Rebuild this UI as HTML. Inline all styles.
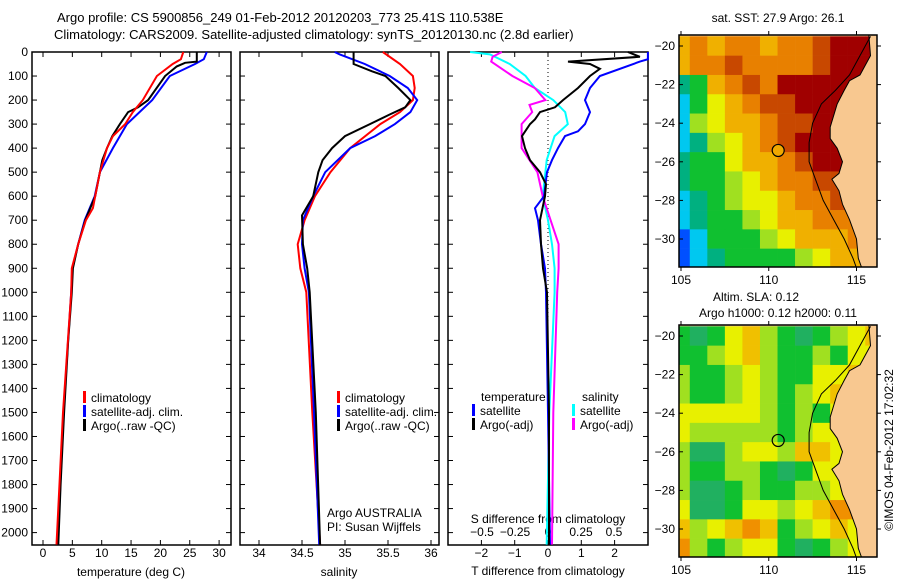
<!DOCTYPE html>
<html><head><meta charset="utf-8"><style>
html,body{margin:0;padding:0;background:#fff;}
svg{display:block;font-family:"Liberation Sans",sans-serif;}
text{font-size:12px;fill:#000;}
</style></head><body>
<svg id="fig" width="900" height="580" viewBox="0 0 900 580" xmlns="http://www.w3.org/2000/svg">
<text x="57" y="22" style="font-size:13px">Argo profile: CS 5900856_249 01-Feb-2012 20120203_773 25.41S 110.538E</text>
<text x="54" y="39" style="font-size:13px">Climatology: CARS2009. Satellite-adjusted climatology: synTS_20120130.nc (2.8d earlier)</text>
<g id="plots"></g>
</svg>
<script>
// ---------- data ----------
const depthTempClim = [0,30,50,100,200,250,300,350,400,500,600,650,700,800,900,1000,1500,2000,2050];
const tempClim      = [23.9,23.5,22.1,19.4,17.0,15.3,14.0,11.9,10.9,9.7,8.9,8.5,7.3,6.0,4.9,4.8,3.4,2.4,2.3];
const depthTempArgo = [0,40,45,60,100,200,230,250,300,350,400,450,500,600,700,800,900,1000,1200,1500,1800,2050];
const tempArgo      = [26.2,26.2,24.2,22.8,20.8,17.9,16.2,14.5,13.1,11.8,10.9,10.1,9.7,8.9,7.2,6.0,5.1,4.9,4.3,3.6,3.0,2.6];
const depthTempSat  = [0,30,50,100,200,300,400,500,600,700,800,900,1000,1500,2050];
const tempSat       = [27.9,27.4,25.9,21.6,18.6,14.3,11.9,9.7,8.8,7.1,6.0,5.0,4.8,3.5,2.5];

const depthSalClim = [0,50,100,150,200,250,300,400,500,600,700,800,900,1000,1500,2050];
const salClim      = [35.44,35.64,35.79,35.81,35.79,35.64,35.41,35.06,34.83,34.65,34.53,34.45,34.48,34.55,34.62,34.71];
const depthSalArgo = [0,50,80,100,150,200,230,260,300,350,400,450,500,600,680,800,900,1000,1500,2050];
const salArgo      = [35.10,35.10,35.31,35.47,35.62,35.76,35.70,35.52,35.29,35.0,34.85,34.74,34.69,34.63,34.50,34.51,34.56,34.59,34.66,34.71];
const depthSalSat  = [0,10,50,100,150,200,250,300,350,400,500,600,700,800,900,1000,1500,2050];
const salSat       = [34.88,34.94,35.23,35.52,35.73,35.84,35.76,35.58,35.35,35.06,34.77,34.63,34.51,34.50,34.53,34.58,34.64,34.70];

const depthTdSat = [0,30,40,100,150,200,250,300,330,350,400,450,500,600,650,700,800,900,1000,1500,2050];
const tDiffSat   = [3.0,3.0,2.76,1.56,1.26,1.11,1.26,1.11,0.9,0.51,0.3,0.12,-0.03,-0.12,-0.39,-0.3,-0.21,-0.09,-0.06,0,0.06];
const depthTdArgo = [0,20,40,50,70,100,150,200,230,250,280,300,350,400,450,500,550,600,700,800,900,1000,1500,2050];
const tDiffArgo   = [2.4,2.76,0.6,1.26,1.56,1.26,0.9,0.45,0.21,-0.24,-0.39,-0.54,-0.78,-0.69,-0.54,-0.24,-0.06,-0.09,-0.24,-0.21,-0.15,-0.03,0.03,0.03];
const depthSdSat = [0,10,50,100,150,200,250,300,350,400,450,500,600,700,800,900,1000,1500,2050];
const sDiffSat   = [-0.59,-0.44,-0.29,-0.17,-0.1,0.04,0.13,0.15,0.05,0.02,-0.01,-0.02,-0.04,0,0.03,0.05,0.05,0.01,-0.01];
const depthSdArgo = [0,20,40,100,150,200,220,250,300,400,450,500,600,700,800,900,1000,1500,2050];
const sDiffArgo   = [-0.35,-0.42,-0.43,-0.27,-0.1,-0.02,-0.14,-0.12,-0.2,-0.2,-0.14,-0.08,-0.04,0.02,0.08,0.08,0.07,0.04,0.03];

const depthTicks = [0,100,200,300,400,500,600,700,800,900,1000,1100,1200,1300,1400,1500,1600,1700,1800,1900,2000];
const tempTicks = [0,5,10,15,20,25,30];
const salTicks = [34,34.5,35,35.5,36];
const salTickLabels = ["34","34.5","35","35.5","36"];
const tdTicks = [-2,-1,0,1,2];
const sdTicks = [-0.5,-0.25,0,0.25,0.5];
const sdTickLabels = ["\u22120.5","\u22120.25","0","0.25","0.5"];

// map grids (1-degree cells, lat rows 20..31 S, lon cols 105..116 E); -1 = land
const sstGrid = [
[6,7,6,7,7,6,7,7,8,9,9,9],
[6,7,7,8,7,7,7,7,8,9,9,9],
[2,3,6,7,8,7,9,9,9,9,9,-1],
[1,3,5,6,7,8,8,9,9,9,-1,-1],
[1,4,5,6,6,7,8,8,9,9,-1,-1],
[1,2,4,5,6,7,8,9,9,9,-1,-1],
[2,3,3,5,6,6,7,8,9,-1,-1,-1],
[2,3,3,4,5,6,7,7,8,8,-1,-1],
[1,2,3,4,5,5,6,7,7,8,-1,-1],
[1,2,3,3,4,5,6,6,7,7,-1,-1],
[0,1,3,3,3,4,5,6,6,6,7,-1],
[0,1,2,3,3,3,3,4,5,6,6,-1]];
const slaGrid = [
[3,2,3,5,6,4,3,2,3,4,5,6],
[3,3,4,5,6,4,3,3,4,3,5,-1],
[4,3,3,4,5,4,3,3,5,5,6,-1],
[4,3,3,4,5,4,3,4,5,6,-1,-1],
[5,5,5,5,5,4,3,4,3,5,-1,-1],
[5,4,4,4,4,4,3,4,5,5,-1,-1],
[4,2,2,4,5,5,4,6,6,5,-1,-1],
[4,3,3,4,4,3,2,3,5,5,-1,-1],
[4,2,2,3,4,3,3,4,4,5,-1,-1],
[5,2,2,3,5,5,4,5,6,7,-1,-1],
[6,4,5,6,7,6,3,4,5,6,5,-1],
[7,4,3,4,5,5,3,2,3,4,5,-1]];
const coastLon = [115.7,115.8,115.2,114.6,114.3,113.9,113.7,113.5,113.5,113.9,114.2,114.0,113.6,114.0,114.2,114.6,115.0,115.1,115.3];
const coastLat = [19.4,20.5,21.5,21.8,22.3,23.0,23.6,24.2,24.8,25.3,26.0,26.6,26.9,27.5,28.2,29.0,30.0,31.0,31.5];
const isoLon = [115.8,115.2,114.6,113.8,113.0,112.5,112.3,112.3,112.7,113.1,113.7,114.3,114.8,115.0];
const isoLat = [19.5,20.5,21.5,22.3,23.0,24.0,25.0,26.0,27.0,28.0,29.0,30.0,31.0,31.5];
const mapLonTicks = [105,110,115];
const mapLatTicks = [20,22,24,26,28,30];
const floatLon = 110.538, floatLat = 25.41;

// ---------- helpers ----------
const NS="http://www.w3.org/2000/svg";
const root=document.getElementById('plots');
function mk(tag,attrs,parent){const e=document.createElementNS(NS,tag);for(const k in attrs)e.setAttribute(k,attrs[k]);(parent||root).appendChild(e);return e;}
function txt(x,y,s,anchor,size){const t=mk('text',{x:x,y:y,'text-anchor':anchor||'start'});if(size)t.style.fontSize=size+'px';t.textContent=s;return t;}

const Y0=52, YK=0.2403, YB=545;
const yD=d=>Y0+d*YK;
const xT=v=>43+v*5.87;
const xS=v=>259+(v-34)*86;
const xTd=v=>548+v*33.3;
const xSd=v=>548+v*132;

function frame(x0,x1,name){
  const r=mk('rect',{x:x0,y:Y0,width:x1-x0,height:YB-Y0,fill:'none',stroke:'#000','stroke-width':1.5});
  
  
  depthTicks.forEach(d=>{mk('line',{x1:x0,x2:x0+5,y1:yD(d),y2:yD(d),stroke:'#000'});mk('line',{x1:x1,x2:x1-5,y1:yD(d),y2:yD(d),stroke:'#000'});});
}
function xticks(vals,fx,labels,ly,name){
  vals.forEach((v,i)=>{const x=fx(v);mk('line',{x1:x,x2:x,y1:YB,y2:YB-5,stroke:'#000'});mk('line',{x1:x,x2:x,y1:Y0,y2:Y0+5,stroke:'#000'});
    const t=txt(x,ly,labels?labels[i]:String(v).replace('-','\u2212'),'middle');
    
    });
}
function line(ds,vs,fx,color,name,x0,x1){
  const pts=ds.map((d,i)=>Math.max(x0,Math.min(x1,fx(vs[i]))).toFixed(1)+','+yD(d).toFixed(1)).join(' ');
  const p=mk('polyline',{points:pts,fill:'none',stroke:color,'stroke-width':2});
  
  
}
function legend(x,y,color,label,name){
  mk('rect',{x:x,y:y-11,width:3,height:12,fill:color});
  const t=txt(x+8,y,label);
  
  
}

// depth labels
depthTicks.forEach(d=>{const t=txt(28,yD(d)+4,String(d),'end');
  
  });

// panel 1 temperature
frame(32,231,'temperature-panel');
xticks(tempTicks,xT,null,557,'temperature-tick-label');
line(depthTempSat,tempSat,xT,'#0000ff','temp-satellite-line',32,231);
line(depthTempArgo,tempArgo,xT,'#000000','temp-argo-line',32,231);
line(depthTempClim,tempClim,xT,'#ff0000','temp-climatology-line',32,231);
let at=txt(131,576,'temperature (deg C)','middle');
legend(83,402,'#ff0000','climatology','legend-climatology');
legend(83,416,'#0000ff','satellite-adj. clim.','legend-satellite-adj');
legend(83,430,'#000000','Argo(..raw -QC)','legend-argo');

// panel 2 salinity
frame(240,439,'salinity-panel');
xticks(salTicks,xS,salTickLabels,557,'salinity-tick-label');
line(depthSalClim,salClim,xS,'#ff0000','sal-climatology-line',240,439);
line(depthSalSat,salSat,xS,'#0000ff','sal-satellite-line',240,439);
line(depthSalArgo,salArgo,xS,'#000000','sal-argo-line',240,439);
at=txt(339,576,'salinity','middle');
legend(337,402,'#ff0000','climatology','legend-sal-climatology');
legend(337,416,'#0000ff','satellite-adj. clim.','legend-sal-satellite-adj');
legend(337,430,'#000000','Argo(..raw -QC)','legend-sal-argo');
at=txt(327,517,'Argo AUSTRALIA');
at=txt(327,531,'PI: Susan Wijffels');

// panel 3 differences
frame(448,648,'difference-panel');
mk('line',{x1:548,x2:548,y1:Y0,y2:YB,stroke:'#000','stroke-dasharray':'1,3'});
xticks(tdTicks,xTd,null,557,'t-diff-tick-label');
sdTicks.forEach((v,i)=>{const t=txt(xSd(v),536,sdTickLabels[i],'middle');});
at=txt(548,523,'S difference from climatology','middle');
at=txt(548,575,'T difference from climatology','middle');
line(depthSdSat,sDiffSat,xSd,'#00ffff','sdiff-satellite-line',448,648);
line(depthSdArgo,sDiffArgo,xSd,'#ff00ff','sdiff-argo-line',448,648);
line(depthTdSat,tDiffSat,xTd,'#0000ff','tdiff-satellite-line',448,648);
line(depthTdArgo,tDiffArgo,xTd,'#000000','tdiff-argo-line',448,648);
at=txt(481,401,'temperature');
legend(472,415,'#0000ff','satellite','legend-tdiff-satellite');
legend(472,429,'#000000','Argo(-adj)','legend-tdiff-argo');
at=txt(582,401,'salinity');
legend(572,415,'#00ffff','satellite','legend-sdiff-satellite');
legend(572,429,'#ff00ff','Argo(-adj)','legend-sdiff-argo');

// ---------- maps ----------
const sstColors=['#0050ff','#00c8f0','#00b080','#10c030','#a0e020','#e8f000','#f0b000','#e88000','#c84800','#a00000'];
const slaColors=['#0050ff','#00c8f0','#20b060','#10c030','#a0e020','#e8f000','#f0c000','#f09000','#c84800','#a00000'];
function drawMap(top,grid,colors,name,circleFill){
  const X0=679,X1=877,Y1=top+232;
  const lx=lon=>681+(lon-105)*17.55;
  const ly=lat=>top+11+(lat-20)*19.3;
  const g=mk('g',{});
  
  
  const cid='clip'+top;
  const cp=mk('clipPath',{id:cid},g);mk('rect',{x:X0,y:top,width:X1-X0,height:Y1-top},cp);
  const inner=mk('g',{'clip-path':'url(#'+cid+')'},g);
  mk('rect',{x:X0,y:top,width:X1-X0,height:Y1-top,fill:'#f8c890'},inner);
  grid.forEach((row,r)=>row.forEach((v,c)=>{
    const lat=20+r, lon=105+c; const val=v<0?row.filter(q=>q>=0).slice(-1)[0]:v;
    const cell=mk('rect',{x:lx(lon-0.5),y:ly(lat-0.5),width:17.8,height:19.6,fill:colors[val]},inner);
    
  }));
  const land=coastLon.map((lo,i)=>lx(lo).toFixed(1)+','+ly(coastLat[i]).toFixed(1));
  land.push(lx(116.5)+','+ly(31.6));land.push(lx(116.5)+','+ly(19.3));
  const lp=mk('polygon',{points:land.join(' '),fill:'#f8c890',stroke:'#000','stroke-width':1},inner);
  
  const iso=mk('polyline',{points:isoLon.map((lo,i)=>lx(lo).toFixed(1)+','+ly(isoLat[i]).toFixed(1)).join(' '),fill:'none',stroke:'#000','stroke-width':1},inner);
  
  mk('rect',{x:X0,y:top,width:X1-X0,height:Y1-top,fill:'none',stroke:'#000','stroke-width':1.5},g);
  const fc=mk('circle',{cx:lx(floatLon),cy:ly(floatLat),r:6,fill:circleFill,stroke:'#000','stroke-width':1.2},g);
  
  mapLatTicks.forEach(l=>{mk('line',{x1:X0,x2:X0+4,y1:ly(l),y2:ly(l),stroke:'#000'},g);mk('line',{x1:X1,x2:X1+4,y1:ly(l),y2:ly(l),stroke:'#000'},g);
    const t=txt(675,ly(l)+4,'\u2212'+l,'end');});
  mapLonTicks.forEach(l=>{mk('line',{x1:lx(l),x2:lx(l),y1:Y1,y2:Y1+4,stroke:'#000'},g);mk('line',{x1:lx(l),x2:lx(l),y1:top,y2:top-4,stroke:'#000'},g);
    const t=txt(lx(l),Y1+17,String(l),'middle');});
}
drawMap(35,sstGrid,sstColors,'sst-map','#f0a800');
drawMap(325,slaGrid,slaColors,'sla-map','none');
at=txt(778,22,'sat. SST: 27.9 Argo: 26.1','middle');
at=txt(756,301,'Altim. SLA: 0.12','middle');
at=txt(778,317,'Argo h1000: 0.12 h2000: 0.11','middle');
at=txt(0,0,'\u00a9IMOS 04-Feb-2012 17:02:32','middle');at.setAttribute('transform','translate(893,450) rotate(-90)');

</script>
</body></html>
